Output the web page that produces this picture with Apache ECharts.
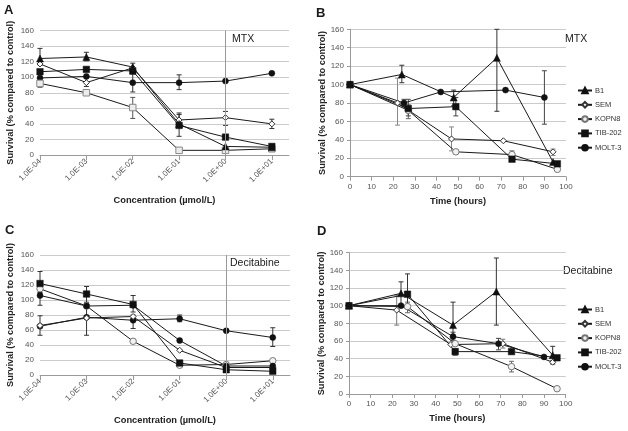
<!DOCTYPE html>
<html><head><meta charset="utf-8">
<script src="https://cdn.jsdelivr.net/npm/echarts@6/dist/echarts.min.js"></script>
<style>html,body{margin:0;padding:0;background:#fff}#c{width:628px;height:431px}</style>
</head><body><div id="c"></div>
<script>
// ---------- shared ----------
const concLabels = ['1.0E-04','1.0E-03','1.0E-02','1.0E-01','1.0E+00','1.0E+01'];
const concExp = [-4,-3,-2,-1,0,1];
const lineNames = ['B1','SEM','KOPN8','TIB-202','MOLT-3'];

// ---------- Panel A : MTX vs concentration ----------
const aB1    = [124,126,113,40,11,10];
const aSEM   = [117,93,112,45,48,40];
const aKOPN8 = [92,80,61,6,6,8];
const aTIB   = [107,110,108,38,23,11];
const aMOLT  = [99,101,93,93,95,105];
// error bars: [concentration index, low, high]
const aB1Err    = [[0,116,137],[1,121,132],[2,108,118]];
const aSEMErr   = [[1,88,99],[3,40,54],[4,38,56],[5,34,46]];
const aKOPN8Err = [[0,87,96],[1,77,84],[2,47,74]];
const aTIBErr   = [[3,24,52]];
const aMOLTErr  = [[2,81,104],[3,84,103]];

// ---------- Panel B : MTX vs time ----------
const bB1Time = [0,24,48,68,94];    const bB1    = [100,111,86,129,16];
const bSEMTime = [0,22,47,71,94];   const bSEM   = [100,80,41,39,27];
const bKOPN8Time = [0,27,49,75,96]; const bKOPN8 = [100,72,27,24,8];
const bTIBTime = [0,27,49,75,96];   const bTIB   = [100,74,76,19,14];
const bMOLTTime = [0,25,42,72,90];  const bMOLT  = [100,80,92,94,86];
const bB1Err    = [[24,102,121],[48,77,94],[68,71,160]];
const bSEMErr   = [[22,56,107],[47,28,54],[94,23,30]];
const bKOPN8Err = [[27,63,78],[75,22,28]];
const bTIBErr   = [[27,66,84],[49,66,86]];
const bMOLTErr  = [[25,76,84],[90,57,115]];

// ---------- Panel C : Decitabine vs concentration ----------
const cSq     = [122,108,94,16,7,5];
const cOpenC  = [115,92,45,13,14,19];
const cCirc   = [106,92,93,46,12,12];
const cMOLT   = [65,77,73,75,59,50];
const cDiam   = [66,76,78,33,10,10];
const cSqErr    = [[0,108,138],[1,97,118],[2,84,106]];
const cCircErr  = [[0,93,110]];
const cMOLTErr  = [[0,53,79],[1,53,95],[2,62,80],[3,71,80],[5,38,63]];

// ---------- Panel D : Decitabine vs time ----------
const dB1Time = [0,24,48,68,94];    const dB1    = [100,114,78,116,44];
const dSEMTime = [0,22,47,71,94];   const dSEM   = [100,95,56,57,36];
const dKOPN8Time = [0,27,49,75,96]; const dKOPN8 = [100,99,57,31,6];
const dTIBTime = [0,27,49,75,96];   const dTIB   = [100,113,48,48,41];
const dMOLTTime = [0,24,48,69,90];  const dMOLT  = [100,100,65,57,42];
const dB1Err    = [[24,101,127],[48,56,104],[68,78,154],[94,34,54]];
const dSEMErr   = [[22,78,112],[71,52,62],[94,34,38]];
const dKOPN8Err = [[27,92,104],[75,25,37]];
const dTIBErr   = [[27,100,136],[49,44,51]];
const dMOLTErr  = [[48,61,70],[69,50,63]];

// ---------- styles ----------
const ST = {
  tri:  {symbol:'triangle', size:7, fill:'#111', border:'#111', bw:0.5},
  diam: {symbol:'diamond', size:6, fill:'#fff', border:'#333', bw:1},
  ocirc:{symbol:'circle', size:6.5, fill:'#f2f2f2', border:'#777', bw:1},
  osq:  {symbol:'rect', size:6.5, fill:'#ececec', border:'#888', bw:1},
  sq:   {symbol:'rect', size:6.5, fill:'#111', border:'#111', bw:0.5},
  circ: {symbol:'circle', size:6, fill:'#111', border:'#111', bw:0.5}
};
const FONT = 'Liberation Sans, Arial, sans-serif';

function lineSeries(name, gi, xs, ys, st, extra) {
  return Object.assign({
    type:'line', name:name, xAxisIndex:gi, yAxisIndex:gi,
    data: xs.map((x,i)=>[x, ys[i]]),
    symbol: st.symbol, symbolSize: st.size, showAllSymbol:true,
    lineStyle:{color:'#1a1a1a', width:1},
    itemStyle:{color: st.fill, borderColor: st.border, borderWidth: st.bw},
    emphasis:{disabled:true}, z:3
  }, extra || {});
}
function errSeries(gi, data, color) {
  return {
    type:'custom', xAxisIndex:gi, yAxisIndex:gi, data:data, silent:true, z:2,
    dimensions:['x','lo','hi'], encode:{x:0, y:[1,2]},
    renderItem: function(params, api){
      const x = api.value(0), lo = api.value(1), hi = api.value(2);
      const p1 = api.coord([x,lo]), p2 = api.coord([x,hi]);
      const w = 2.5, s = {stroke:color, lineWidth:1};
      return {type:'group', children:[
        {type:'line', shape:{x1:p1[0],y1:p1[1],x2:p2[0],y2:p2[1]}, style:s},
        {type:'line', shape:{x1:p1[0]-w,y1:p1[1],x2:p1[0]+w,y2:p1[1]}, style:s},
        {type:'line', shape:{x1:p2[0]-w,y1:p2[1],x2:p2[0]+w,y2:p2[1]}, style:s}
      ]};
    }
  };
}
const concErr = arr => arr.map(e => [concExp[e[0]], e[1], e[2]]);

const grids = [
  {left:40, top:30.5, width:249, height:124.5},
  {left:350, top:29.3, width:216, height:147.4},
  {left:40, top:255, width:250, height:120},
  {left:349, top:252.7, width:216.7, height:141.3}
];

const axisGray = '#9a9a9a';
function concX(gi) {
  return {
    type:'value', gridIndex:gi, min:-4, max:1.37, interval:1,
    axisLine:{show:true, onZero:false, lineStyle:{color:axisGray}},
    axisTick:{show:true, length:5, lineStyle:{color:axisGray}, customValues: concExp},
    axisLabel:{customValues: concExp, rotate:45, fontSize:8, color:'#555', fontFamily:FONT, margin:5,
      formatter: v => { const i = concExp.indexOf(Math.round(v)); return i < 0 ? '' : concLabels[i]; }},
    splitLine:{show:false},
    name:'Concentration (µmol/L)', nameLocation:'middle', nameGap:41,
    nameTextStyle:{fontWeight:'bold', fontSize:9.3, color:'#222', fontFamily:FONT}
  };
}
function timeX(gi) {
  return {
    type:'value', gridIndex:gi, min:0, max:100, interval:10,
    axisLine:{show:true, onZero:false, lineStyle:{color:axisGray}},
    axisTick:{show:true, length:4, lineStyle:{color:axisGray}},
    axisLabel:{fontSize:8, color:'#555', fontFamily:FONT, margin:6},
    splitLine:{show:false},
    name:'Time (hours)', nameLocation:'middle', nameGap:20,
    nameTextStyle:{fontWeight:'bold', fontSize:9.3, color:'#222', fontFamily:FONT}
  };
}
function survY(gi, withLine, gap) {
  return {
    type:'value', gridIndex:gi, min:0, max:160, interval:20,
    axisLine:{show:withLine, lineStyle:{color:axisGray}},
    axisTick:{show:withLine, length:3, lineStyle:{color:axisGray}},
    axisLabel:{fontSize:8, color:'#555', fontFamily:FONT, margin:6},
    splitLine:{show:true, lineStyle:{color:'#cbcbcb', width:1}},
    name:'Survival (% compared to control)', nameLocation:'middle', nameGap:gap,
    nameTextStyle:{fontWeight:'bold', fontSize:9.2, color:'#222', fontFamily:FONT}
  };
}

const vline = {markLine:{silent:true, symbol:'none', label:{show:false},
  lineStyle:{color:'#999', type:'solid', width:1}, data:[{xAxis:0}]}};

const series = [
  // Panel A
  errSeries(0, concErr(aB1Err), '#333'),
  errSeries(0, concErr(aSEMErr), '#333'),
  errSeries(0, concErr(aKOPN8Err), '#555'),
  errSeries(0, concErr(aTIBErr), '#333'),
  errSeries(0, concErr(aMOLTErr), '#333'),
  lineSeries('A-MOLT-3', 0, concExp, aMOLT, ST.circ, vline),
  lineSeries('A-KOPN8', 0, concExp, aKOPN8, ST.osq),
  lineSeries('A-TIB-202', 0, concExp, aTIB, ST.sq),
  lineSeries('A-SEM', 0, concExp, aSEM, ST.diam),
  lineSeries('A-B1', 0, concExp, aB1, ST.tri),
  // Panel B
  errSeries(1, bB1Err, '#333'),
  errSeries(1, bSEMErr, '#888'),
  errSeries(1, bKOPN8Err, '#666'),
  errSeries(1, bTIBErr, '#444'),
  errSeries(1, bMOLTErr, '#444'),
  lineSeries('B1', 1, bB1Time, bB1, ST.tri),
  lineSeries('SEM', 1, bSEMTime, bSEM, ST.diam),
  lineSeries('KOPN8', 1, bKOPN8Time, bKOPN8, ST.ocirc),
  lineSeries('TIB-202', 1, bTIBTime, bTIB, ST.sq),
  lineSeries('MOLT-3', 1, bMOLTTime, bMOLT, ST.circ),
  // Panel C
  errSeries(2, concErr(cSqErr), '#333'),
  errSeries(2, concErr(cCircErr), '#333'),
  errSeries(2, concErr(cMOLTErr), '#333'),
  lineSeries('C-MOLT', 2, concExp, cMOLT, ST.circ, vline),
  lineSeries('C-diam', 2, concExp, cDiam, ST.diam),
  lineSeries('C-open', 2, concExp, cOpenC, ST.ocirc),
  lineSeries('C-circ', 2, concExp, cCirc, ST.circ),
  lineSeries('C-sq', 2, concExp, cSq, ST.sq),
  // Panel D
  errSeries(3, dB1Err, '#333'),
  errSeries(3, dSEMErr, '#777'),
  errSeries(3, dKOPN8Err, '#666'),
  errSeries(3, dTIBErr, '#333'),
  errSeries(3, dMOLTErr, '#444'),
  lineSeries('D-B1', 3, dB1Time, dB1, ST.tri),
  lineSeries('D-SEM', 3, dSEMTime, dSEM, ST.diam),
  lineSeries('D-KOPN8', 3, dKOPN8Time, dKOPN8, ST.ocirc),
  lineSeries('D-TIB-202', 3, dTIBTime, dTIB, ST.sq),
  lineSeries('D-MOLT-3', 3, dMOLTTime, dMOLT, ST.circ)
];

function legendAt(top) {
  return {data: lineNames, orient:'vertical', left:577, top:top, padding:0,
    itemWidth:14, itemHeight:7, itemGap:6.3, selectedMode:false,
    textStyle:{fontSize:7.5, color:'#333', fontFamily:FONT, padding:[0,0,0,-2]}};
}

function txt(x, y, text, font) {
  return {type:'text', x:x, y:y, silent:true,
    style:{text:text, font:font, fill:'#1a1a1a', align:'left', verticalAlign:'middle'}};
}
const letterFont = 'bold 13px ' + FONT;
const drugFont = '10.5px ' + FONT;

const option = {
  animation:false,
  backgroundColor:'#fff',
  grid: grids,
  xAxis: [concX(0), timeX(1), concX(2), timeX(3)],
  yAxis: [survY(0,false,25), survY(1,true,18), survY(2,false,25), survY(3,true,18)],
  legend: [legendAt(86.5), legendAt(305.5)],
  series: series,
  graphic: [
    txt(4, 10, 'A', letterFont),
    txt(316, 13, 'B', letterFont),
    txt(5, 230, 'C', letterFont),
    txt(317, 231, 'D', letterFont),
    txt(232, 39.5, 'MTX', drugFont),
    txt(565, 39, 'MTX', drugFont),
    txt(230, 263, 'Decitabine', drugFont),
    txt(563, 271, 'Decitabine', drugFont)
  ]
};
const chart = echarts.init(document.getElementById('c'), null, {renderer:'canvas'});
chart.setOption(option);
</script>
</body></html>
